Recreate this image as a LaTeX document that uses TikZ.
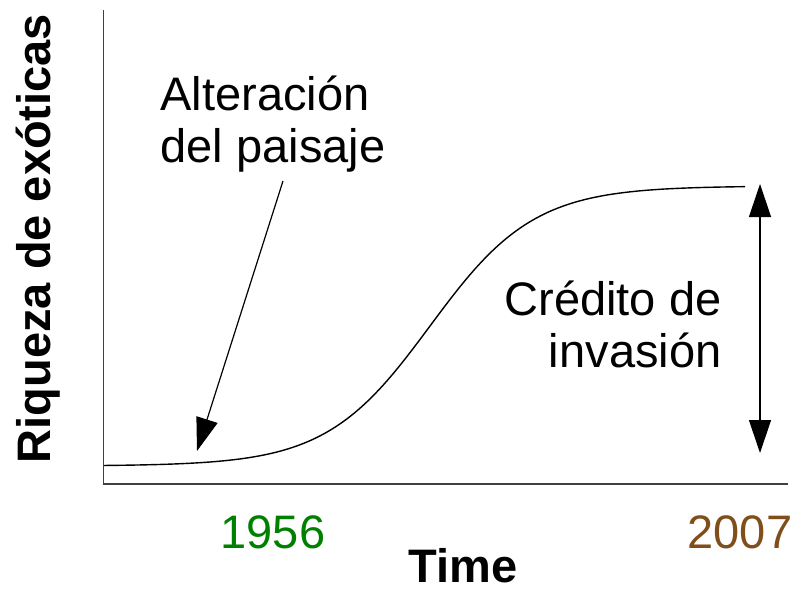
\documentclass[tikz,border=0pt]{standalone}
\usepackage{fontspec}
\setmainfont{Liberation Sans}
\usetikzlibrary{arrows.meta}
\definecolor{yeargreen}{RGB}{0,128,0}
\definecolor{yearbrown}{RGB}{128,78,27}
\begin{document}
\begin{tikzpicture}[x=0.5pt, y=-0.5pt, line width=0.6pt, big tip/.style={-{Triangle[length=16.5pt,width=11pt]}},big tips/.style={{Triangle[length=16.5pt,width=11pt]}-{Triangle[length=16.5pt,width=11pt]}},label text/.style={inner sep=0pt,font=\fontsize{23.5}{26}\selectfont}]
\useasboundingbox (0,0) rectangle (792,589);
% axes
\draw [black!75] (103.5,10) -- (103.5,484) -- (788,484);
% curve
\draw [line width=0.7pt, domain=104:745, samples=120, smooth] plot (\x, {466-280/(1+exp(-(\x-430)/52))});
\begin{scope}[every node/.style={label text}]
\node [anchor=base west, align=left] (alt) at (160,162) {Alteración\\del paisaje};
\node [anchor=base east, align=right] (cred) at (722,367) {Crédito de\\invasión};
\node [anchor=base, text=yeargreen] (y1956) at (273,548) {1956};
\node [anchor=base, text=yearbrown] (y2007) at (740,548) {2007};
\node [anchor=base, font=\fontsize{23.5}{26}\selectfont\bfseries] (time) at (463,582) {Time};
\node [anchor=base, rotate=90, font=\fontsize{23.5}{26}\selectfont\bfseries] (riq) at (50,238.5) {Riqueza de exóticas};
\end{scope}
\coordinate (alt tail) at (283,181);
\coordinate (alt tip) at (197,451);
\coordinate (cred top) at (760,184);
\coordinate (cred bot) at (760,453);
\draw [big tip] (alt tail) -- (alt tip);
\draw [big tips] (cred top) -- (cred bot);
\end{tikzpicture}
\end{document}
